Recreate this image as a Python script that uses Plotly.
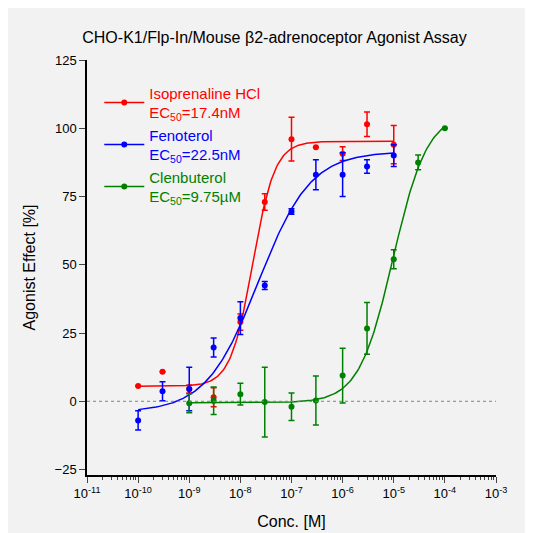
import numpy as np
import plotly.graph_objects as go

conc = [1e-10, 3e-10, 1e-9, 3e-9, 1e-8, 3e-8, 1e-7, 3e-7, 1e-6, 3e-6, 1e-5]
iso_y = [5.6, 10.8, 4.5, 1.5, 29, 73, 96, 93, 90.7, 101.5, 94]
iso_err = [0, 0, 1.5, 3.5, 3, 3, 8, 0, 2.5, 4.5, 7]
feno_y = [-7, 3.7, 4.5, 19.7, 30.5, 42.4, 69.5, 83, 83, 86, 90]
feno_err = [3.5, 3.5, 8, 3.5, 6, 1.5, 1, 5.5, 8, 2.5, 4]
clen_conc = [1e-9, 3e-9, 1e-8, 3e-8, 1e-7, 3e-7, 1e-6, 3e-6, 1e-5, 3e-5, 1e-4]
clen_y = [-0.7, 0.2, 2.6, -0.3, -2, 0.3, 9.4, 26.7, 52, 87.5, 100]
clen_err = [3.5, 5, 4, 12.8, 5, 9, 10, 9.5, 3.5, 2.7, 0]

# 4PL fits: bottom, top, EC50, hill
fits = {
    'iso': (5.5, 95.2, 17.4e-9, 2.0),
    'feno': (-4, 91.5, 22.5e-9, 0.85),
    'clen': (-0.5, 105.5, 9.75e-6, 1.3),
}


def hill(x, p):
    b, t, ec, h = p
    return b + (t - b) / (1 + (ec / x) ** h)


series = [
    ('Isoprenaline HCl', '17.4nM', 'red', conc, iso_y, iso_err, 'iso', (1e-10, 1e-5)),
    ('Fenoterol', '22.5nM', 'blue', conc, feno_y, feno_err, 'feno', (1e-10, 1e-5)),
    ('Clenbuterol', '9.75µM', 'green', clen_conc, clen_y, clen_err, 'clen', (1e-9, 1e-4)),
]

fig = go.Figure()
for name, ec, col, xs, ys, es, key, (lo, hi) in series:
    xf = np.logspace(np.log10(lo), np.log10(hi), 200)
    fig.add_trace(go.Scatter(
        x=xs, y=ys, mode='markers', showlegend=False,
        marker=dict(color=col, size=6),
        error_y=dict(type='data', array=es, color=col, thickness=1.5, width=3),
    ))
    fig.add_trace(go.Scatter(
        x=xf, y=hill(xf, fits[key]), mode='lines', showlegend=False,
        line=dict(color=col, width=1.5),
    ))
    # legend entry only
    fig.add_trace(go.Scatter(
        x=[None], y=[None], mode='lines+markers',
        line=dict(color=col, width=1.5), marker=dict(color=col, size=6),
        name=f"<span style='color:{col}'>{name}<br>EC<sub>50</sub>={ec}</span>",
    ))

fig.add_hline(y=0, line=dict(color='gray', width=1, dash='dot'))

fig.update_layout(
    width=533, height=533,
    paper_bgcolor='#f2f2f2', plot_bgcolor='#f2f2f2',
    font=dict(family='Arial, Liberation Sans', size=13, color='black'),
    title=dict(text='CHO-K1/Flp-In/Mouse β2-adrenoceptor Agonist Assay', x=0.5, y=0.955,
               font=dict(size=16)),
    margin=dict(l=79, r=45, t=52, b=66),
    legend=dict(x=0.03, y=0.96, bgcolor='rgba(0,0,0,0)', font=dict(size=15),
                tracegroupgap=12, itemwidth=40),
    xaxis=dict(type='log', range=[-11, -3], title='Conc. [M]',
               tickvals=[10.0 ** k for k in range(-11, -2)],
               ticktext=[f'10<sup>{k}</sup>' for k in range(-11, -2)],
               ticks='outside', ticklen=6, showline=True, linecolor='black', linewidth=1.5,
               showgrid=False, zeroline=False,
               minor=dict(ticks='outside', ticklen=3, dtick='D1', showgrid=False)),
    yaxis=dict(range=[-27, 125], title='Agonist Effect [%]',
               tickvals=[-25, 0, 25, 50, 75, 100, 125],
               ticks='outside', ticklen=6, showline=True, linecolor='black', linewidth=1.5,
               showgrid=False, zeroline=False),
)

fig.write_html("out.html")
